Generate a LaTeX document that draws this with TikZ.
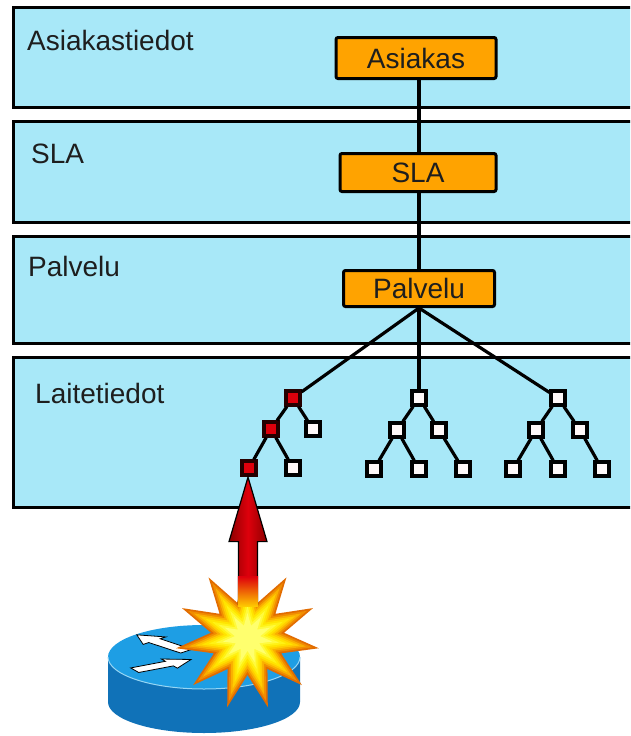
\documentclass[tikz,border=0pt]{standalone}
\usepackage{fontspec}
\setmainfont{Liberation Sans}
\usetikzlibrary{shapes.geometric,calc}

\definecolor{bandfill}{RGB}{168,232,248}
\definecolor{boxfill}{RGB}{255,163,0}
\definecolor{textdark}{RGB}{30,30,30}
\definecolor{faultred}{RGB}{222,0,12}
\definecolor{leafwhite}{RGB}{255,248,248}
\definecolor{routertop}{RGB}{30,158,228}
\definecolor{routerside}{RGB}{16,114,184}
\definecolor{routerrim}{RGB}{150,214,244}
\definecolor{burstA}{RGB}{226,108,0}
\definecolor{burstB}{RGB}{240,140,0}
\definecolor{burstC}{RGB}{250,175,0}
\definecolor{burstD}{RGB}{255,205,0}
\definecolor{burstE}{RGB}{255,228,0}
\definecolor{burstF}{RGB}{255,242,20}
\definecolor{burstG}{RGB}{255,250,60}
\definecolor{burstH}{RGB}{255,255,110}

\tikzset{
  band/.style={draw=black, line width=3, fill=bandfill},
  layerlabel/.style={font=\fontsize{28}{30}\selectfont, text=textdark, anchor=base west, inner sep=0},
  objbox/.style={draw=black, line width=3, fill=boxfill, rounded corners=2,
    font=\fontsize{28}{30}\selectfont, text=textdark, inner sep=0},
  link/.style={draw=black, line width=3.2},
  leaf/.style={rectangle, draw=black, line width=3.2, fill=leafwhite, minimum size=14, inner sep=0},
  faulty/.style={leaf, fill=faultred, draw=black!85!red},
  burst/.style={star, star points=11, star point ratio=1.95, inner sep=0, outer sep=0, draw=none},
  routerarrow/.style={fill=white, draw=black, line width=0.8},
}

\begin{document}
\begin{tikzpicture}[x=1pt, y=-1pt]
\useasboundingbox (0,0) rectangle (630,736);
\clip (0,0) rectangle (630,736);
\fill[white] (0,0) rectangle (630,736);

% the four layers
\draw[band] (13,7)   rectangle (660,107);
\draw[band] (13,121) rectangle (660,222);
\draw[band] (13,236) rectangle (660,343);
\draw[band] (13,357) rectangle (660,507);

\node[layerlabel] (lblAsiakastiedot) at (27,50)  {Asiakastiedot};
\node[layerlabel] (lblSLA)           at (31,163) {SLA};
\node[layerlabel] (lblPalvelu)       at (28,276) {Palvelu};
\node[layerlabel] (lblLaitetiedot)   at (35,403) {Laitetiedot};

% object chain
\node[objbox, minimum width=160, minimum height=41] (asiakas) at (416,58)    {Asiakas};
\node[objbox, minimum width=156, minimum height=38] (sla)     at (418,172.5) {SLA};
\node[objbox, minimum width=151, minimum height=36] (palvelu) at (419,288.5) {Palvelu};

\draw[link] (asiakas.south -| palvelu.north) -- (sla.north -| palvelu.north);
\draw[link] (sla.south -| palvelu.north) -- (palvelu.north);

% device trees
\node[faulty] (r1) at (293,398) {};
\node[faulty] (r2) at (271,429) {};
\node[leaf]   (w1) at (313,429) {};
\node[faulty] (r3) at (249,468) {};
\node[leaf]   (w2) at (293,468) {};

\node[leaf] (m)   at (419,398) {};
\node[leaf] (m1)  at (397,430) {};
\node[leaf] (m2)  at (439,430) {};
\node[leaf] (m11) at (374,469) {};
\node[leaf] (m12) at (419,469) {};
\node[leaf] (m22) at (463,469) {};

\node[leaf] (n)   at (558,398) {};
\node[leaf] (n1)  at (536,430) {};
\node[leaf] (n2)  at (580,430) {};
\node[leaf] (n11) at (513,469) {};
\node[leaf] (n12) at (558,469) {};
\node[leaf] (n22) at (602,469) {};

\draw[link] (palvelu.south) -- (r1);
\draw[link] (palvelu.south) -- (m);
\draw[link] (palvelu.south) -- (n);
\draw[link] (r1) -- (r2);
\draw[link] (r1) -- (w1);
\draw[link] (r2) -- (r3);
\draw[link] (r2) -- (w2);
\draw[link] (m) -- (m1);
\draw[link] (m) -- (m2);
\draw[link] (m1) -- (m11);
\draw[link] (m1) -- (m12);
\draw[link] (m2) -- (m22);
\draw[link] (n) -- (n1);
\draw[link] (n) -- (n2);
\draw[link] (n1) -- (n11);
\draw[link] (n1) -- (n12);
\draw[link] (n2) -- (n22);

% router
\fill[routerside] (108,657) -- (108,702)
  arc[start angle=180, end angle=0, x radius=96, y radius=31] -- (300,657) -- cycle;
\fill[routertop] (204,657) ellipse [x radius=96, y radius=32];
\draw[routerrim, line width=1] (108,657) arc[start angle=180, end angle=0, x radius=96, y radius=32];
\begin{scope}[shift={(204,657)}, yscale=0.33]
  \draw[routerarrow] (-12.0,-23.3) -- (-43.8,-55.2) -- (-38.2,-60.8) -- (-67.2,-67.2)
    -- (-60.8,-38.2) -- (-55.2,-43.8) -- (-23.3,-12.0) -- cycle;
  \draw[routerarrow] (-13.0,7.5) -- (-26.6,33.9) -- (-30.6,26.9) -- (-65.3,46.9)
    -- (-73.3,33.1) -- (-38.6,13.1) -- (-42.6,6.1) -- cycle;
\end{scope}

% burst
\coordinate (fault) at (247.5,638);
\foreach \s/\c [count=\i] in {144/burstA,131/burstB,118/burstC,105/burstD,92/burstE,78/burstF,64/burstG,50/burstH}
  \node[burst, minimum size=\s, fill=\c] (burst\i) at (fault) {};

% alarm arrow
\draw[black, line width=1.2, left color=red!55!black, right color=red!55!black, middle color=faultred]
  ($(r3.south)+(-1,0.5)$) -- ($(r3.south)+(-20,65)$) -- ($(r3.south)+(-10.5,65)$)
  -- ($(r3.south)+(-10.5,128)$) -- ($(r3.south)+(8.5,128)$) -- ($(r3.south)+(8.5,65)$)
  -- ($(r3.south)+(18,65)$) -- cycle;
\shade[top color=faultred, bottom color=burstD]
  ($(r3.south)+(-11.2,100)$) rectangle ($(r3.south)+(9.2,130)$);
\end{tikzpicture}
\end{document}
